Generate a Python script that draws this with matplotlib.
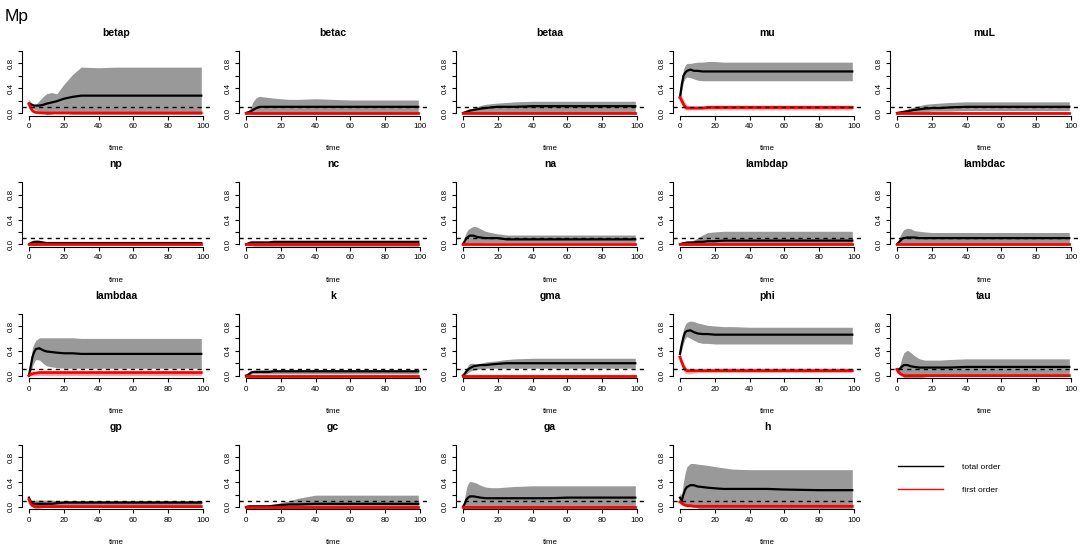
import matplotlib.pyplot as plt
from matplotlib.lines import Line2D

plt.rcParams['font.family'] = ['Liberation Sans', 'DejaVu Sans']

# shared time grid (values at these times)
time = [0, 1, 2, 3, 4, 6, 8, 10, 13, 16, 20, 25, 30, 40, 50, 60, 80, 99]

params = ['betap', 'betac', 'betaa', 'mu', 'muL',
          'np', 'nc', 'na', 'lambdap', 'lambdac',
          'lambdaa', 'k', 'gma', 'phi', 'tau',
          'gp', 'gc', 'ga', 'h']

total_mean = {
    'betap':   [0.15, 0.14, 0.13, 0.12, 0.12, 0.12, 0.13, 0.15, 0.17, 0.19, 0.23, 0.26, 0.28, 0.28, 0.28, 0.28, 0.28, 0.28],
    'betac':   [0.00, 0.01, 0.02, 0.03, 0.05, 0.08, 0.10, 0.10, 0.10, 0.10, 0.10, 0.10, 0.10, 0.10, 0.10, 0.10, 0.10, 0.10],
    'betaa':   [0.00, 0.01, 0.02, 0.03, 0.04, 0.05, 0.06, 0.07, 0.08, 0.09, 0.10, 0.10, 0.10, 0.11, 0.11, 0.11, 0.11, 0.11],
    'mu':      [0.25, 0.45, 0.60, 0.65, 0.68, 0.70, 0.68, 0.68, 0.67, 0.67, 0.67, 0.67, 0.67, 0.67, 0.67, 0.67, 0.67, 0.67],
    'muL':     [0.00, 0.005, 0.01, 0.015, 0.02, 0.03, 0.04, 0.05, 0.06, 0.07, 0.08, 0.08, 0.09, 0.10, 0.10, 0.10, 0.10, 0.10],
    'np':      [0.00, 0.02, 0.03, 0.04, 0.04, 0.04, 0.03, 0.02, 0.02, 0.02, 0.02, 0.02, 0.02, 0.02, 0.02, 0.02, 0.02, 0.02],
    'nc':      [0.00, 0.01, 0.02, 0.03, 0.03, 0.03, 0.03, 0.03, 0.03, 0.04, 0.04, 0.04, 0.04, 0.04, 0.04, 0.04, 0.04, 0.04],
    'na':      [0.00, 0.05, 0.10, 0.12, 0.14, 0.14, 0.12, 0.11, 0.10, 0.10, 0.10, 0.08, 0.08, 0.08, 0.08, 0.08, 0.08, 0.08],
    'lambdap': [0.00, 0.01, 0.02, 0.02, 0.03, 0.03, 0.03, 0.04, 0.04, 0.05, 0.05, 0.06, 0.06, 0.06, 0.06, 0.06, 0.06, 0.06],
    'lambdac': [0.00, 0.03, 0.06, 0.09, 0.10, 0.11, 0.11, 0.11, 0.10, 0.10, 0.10, 0.10, 0.10, 0.10, 0.10, 0.10, 0.10, 0.10],
    'lambdaa': [0.00, 0.15, 0.30, 0.38, 0.43, 0.44, 0.41, 0.39, 0.38, 0.37, 0.36, 0.36, 0.35, 0.35, 0.35, 0.35, 0.35, 0.35],
    'k':       [0.00, 0.01, 0.03, 0.05, 0.06, 0.06, 0.06, 0.06, 0.06, 0.07, 0.07, 0.07, 0.07, 0.07, 0.07, 0.07, 0.07, 0.07],
    'gma':     [0.00, 0.03, 0.07, 0.10, 0.12, 0.15, 0.16, 0.17, 0.17, 0.18, 0.19, 0.20, 0.20, 0.20, 0.20, 0.20, 0.20, 0.20],
    'phi':     [0.35, 0.50, 0.62, 0.70, 0.72, 0.73, 0.70, 0.68, 0.67, 0.67, 0.66, 0.66, 0.66, 0.66, 0.66, 0.66, 0.66, 0.66],
    'tau':     [0.10, 0.10, 0.12, 0.15, 0.17, 0.17, 0.15, 0.14, 0.13, 0.13, 0.13, 0.13, 0.13, 0.14, 0.14, 0.14, 0.14, 0.14],
    'gp':      [0.15, 0.08, 0.06, 0.05, 0.05, 0.05, 0.05, 0.05, 0.05, 0.06, 0.07, 0.07, 0.07, 0.07, 0.07, 0.07, 0.07, 0.07],
    'gc':      [0.00, 0.005, 0.01, 0.01, 0.01, 0.01, 0.01, 0.01, 0.01, 0.02, 0.03, 0.04, 0.04, 0.05, 0.05, 0.05, 0.05, 0.05],
    'ga':      [0.00, 0.05, 0.12, 0.15, 0.17, 0.17, 0.16, 0.15, 0.14, 0.14, 0.14, 0.14, 0.14, 0.14, 0.14, 0.15, 0.15, 0.15],
    'h':       [0.15, 0.10, 0.20, 0.28, 0.32, 0.35, 0.35, 0.33, 0.32, 0.31, 0.30, 0.29, 0.29, 0.29, 0.29, 0.28, 0.27, 0.27],
}

total_hi = {
    'betap':   [0.22, 0.18, 0.14, 0.13, 0.14, 0.20, 0.26, 0.31, 0.33, 0.31, 0.46, 0.62, 0.74, 0.73, 0.74, 0.74, 0.74, 0.74],
    'betac':   [0.00, 0.03, 0.06, 0.10, 0.18, 0.25, 0.27, 0.26, 0.25, 0.24, 0.23, 0.22, 0.22, 0.23, 0.22, 0.21, 0.21, 0.21],
    'betaa':   [0.00, 0.01, 0.03, 0.04, 0.06, 0.08, 0.10, 0.12, 0.14, 0.15, 0.16, 0.17, 0.18, 0.19, 0.19, 0.19, 0.19, 0.19],
    'mu':      [0.30, 0.55, 0.70, 0.77, 0.80, 0.80, 0.81, 0.82, 0.82, 0.83, 0.83, 0.82, 0.82, 0.82, 0.82, 0.82, 0.82, 0.82],
    'muL':     [0.00, 0.01, 0.02, 0.03, 0.04, 0.06, 0.08, 0.10, 0.12, 0.14, 0.15, 0.16, 0.17, 0.18, 0.18, 0.18, 0.18, 0.18],
    'np':      [0.00, 0.03, 0.05, 0.06, 0.07, 0.06, 0.04, 0.03, 0.03, 0.03, 0.03, 0.03, 0.03, 0.03, 0.03, 0.03, 0.03, 0.03],
    'nc':      [0.00, 0.02, 0.03, 0.04, 0.05, 0.05, 0.05, 0.05, 0.05, 0.06, 0.06, 0.06, 0.06, 0.06, 0.06, 0.06, 0.06, 0.06],
    'na':      [0.00, 0.12, 0.20, 0.24, 0.26, 0.29, 0.28, 0.25, 0.21, 0.19, 0.17, 0.15, 0.15, 0.15, 0.15, 0.15, 0.15, 0.15],
    'lambdap': [0.00, 0.02, 0.03, 0.03, 0.04, 0.05, 0.07, 0.10, 0.15, 0.19, 0.20, 0.21, 0.21, 0.21, 0.21, 0.21, 0.21, 0.21],
    'lambdac': [0.00, 0.08, 0.15, 0.20, 0.24, 0.26, 0.25, 0.22, 0.21, 0.20, 0.19, 0.19, 0.19, 0.19, 0.19, 0.19, 0.19, 0.19],
    'lambdaa': [0.00, 0.25, 0.45, 0.52, 0.57, 0.61, 0.61, 0.61, 0.61, 0.61, 0.61, 0.61, 0.60, 0.60, 0.60, 0.60, 0.60, 0.60],
    'k':       [0.00, 0.02, 0.05, 0.07, 0.08, 0.09, 0.09, 0.09, 0.09, 0.09, 0.09, 0.09, 0.09, 0.09, 0.09, 0.09, 0.09, 0.09],
    'gma':     [0.00, 0.06, 0.12, 0.17, 0.20, 0.20, 0.19, 0.20, 0.22, 0.23, 0.24, 0.26, 0.27, 0.28, 0.28, 0.28, 0.28, 0.28],
    'phi':     [0.38, 0.60, 0.75, 0.82, 0.86, 0.88, 0.87, 0.85, 0.83, 0.81, 0.80, 0.79, 0.79, 0.78, 0.78, 0.78, 0.78, 0.78],
    'tau':     [0.10, 0.12, 0.20, 0.30, 0.37, 0.41, 0.37, 0.32, 0.27, 0.25, 0.25, 0.25, 0.26, 0.27, 0.27, 0.27, 0.27, 0.27],
    'gp':      [0.16, 0.12, 0.10, 0.10, 0.11, 0.11, 0.11, 0.11, 0.11, 0.10, 0.10, 0.10, 0.10, 0.10, 0.10, 0.10, 0.10, 0.10],
    'gc':      [0.00, 0.01, 0.02, 0.02, 0.02, 0.02, 0.02, 0.02, 0.03, 0.04, 0.07, 0.10, 0.14, 0.19, 0.19, 0.19, 0.19, 0.19],
    'ga':      [0.00, 0.15, 0.30, 0.38, 0.41, 0.40, 0.38, 0.35, 0.32, 0.31, 0.31, 0.32, 0.33, 0.34, 0.34, 0.34, 0.34, 0.34],
    'h':       [0.22, 0.20, 0.40, 0.55, 0.65, 0.70, 0.70, 0.69, 0.68, 0.67, 0.65, 0.63, 0.61, 0.60, 0.60, 0.60, 0.60, 0.60],
}

total_lo = {
    'betap':   [0.10, 0.09, 0.08, 0.06, 0.05, 0.03, 0.00, -0.03, -0.02, 0.03, 0.00, -0.02, -0.02, -0.02, -0.02, -0.02, -0.02, -0.02],
    'betac':   [0.00, 0.00, -0.01, -0.01, -0.02, -0.02, -0.02, -0.02, -0.02, -0.02, -0.02, -0.02, -0.02, -0.02, -0.02, -0.02, -0.02, -0.02],
    'betaa':   [0.00, 0.00, 0.00, 0.00, 0.01, 0.01, 0.01, 0.01, 0.01, 0.01, 0.01, 0.01, 0.01, 0.01, 0.01, 0.01, 0.01, 0.01],
    'mu':      [0.20, 0.35, 0.50, 0.56, 0.58, 0.57, 0.55, 0.53, 0.52, 0.52, 0.52, 0.52, 0.52, 0.52, 0.52, 0.52, 0.52, 0.52],
    'muL':     [0.00, 0.00, 0.00, 0.00, 0.00, 0.01, 0.01, 0.01, 0.02, 0.02, 0.03, 0.03, 0.03, 0.04, 0.04, 0.04, 0.04, 0.04],
    'np':      [0.00, -0.01, -0.02, -0.02, -0.02, -0.01, 0.00, 0.00, 0.00, 0.00, 0.00, 0.00, 0.00, 0.00, 0.00, 0.00, 0.00, 0.00],
    'nc':      [0.00, -0.01, -0.02, -0.02, -0.03, -0.03, -0.03, -0.03, -0.03, -0.03, -0.03, -0.03, -0.03, -0.03, -0.03, -0.03, -0.03, -0.03],
    'na':      [0.00, 0.00, 0.01, 0.02, 0.02, 0.02, 0.02, 0.02, 0.03, 0.03, 0.03, 0.03, 0.03, 0.03, 0.03, 0.03, 0.03, 0.03],
    'lambdap': [0.00, 0.00, -0.01, -0.02, -0.02, -0.01, 0.00, 0.00, 0.00, 0.00, 0.00, 0.00, 0.00, 0.00, 0.00, 0.00, 0.00, 0.00],
    'lambdac': [0.00, 0.00, 0.00, 0.01, 0.01, 0.01, 0.01, 0.01, 0.01, 0.01, 0.01, 0.01, 0.01, 0.01, 0.01, 0.01, 0.01, 0.01],
    'lambdaa': [0.00, 0.05, 0.15, 0.22, 0.26, 0.25, 0.20, 0.16, 0.14, 0.13, 0.12, 0.12, 0.12, 0.12, 0.12, 0.12, 0.12, 0.12],
    'k':       [0.00, 0.00, 0.01, 0.02, 0.03, 0.03, 0.03, 0.03, 0.03, 0.03, 0.03, 0.03, 0.03, 0.03, 0.03, 0.03, 0.03, 0.03],
    'gma':     [0.00, 0.00, 0.03, 0.05, 0.07, 0.09, 0.10, 0.11, 0.12, 0.12, 0.12, 0.12, 0.12, 0.12, 0.12, 0.12, 0.12, 0.12],
    'phi':     [0.32, 0.42, 0.52, 0.60, 0.63, 0.60, 0.57, 0.54, 0.52, 0.52, 0.51, 0.51, 0.51, 0.51, 0.51, 0.51, 0.51, 0.51],
    'tau':     [0.10, 0.06, 0.03, 0.00, -0.03, -0.04, -0.05, -0.05, -0.04, -0.02, 0.00, 0.00, 0.00, 0.00, 0.00, 0.00, 0.00, 0.00],
    'gp':      [0.14, 0.04, 0.00, -0.02, -0.02, -0.02, -0.01, 0.00, 0.00, 0.00, 0.00, 0.00, 0.00, 0.00, 0.00, 0.00, 0.00, 0.00],
    'gc':      [0.00, 0.00, 0.00, 0.00, -0.01, -0.01, -0.01, -0.01, -0.01, -0.02, -0.02, -0.02, -0.02, -0.02, -0.02, -0.02, -0.02, -0.02],
    'ga':      [0.00, 0.00, 0.00, 0.00, 0.00, 0.00, 0.00, 0.00, 0.00, 0.00, 0.00, 0.00, 0.00, 0.00, 0.00, 0.00, 0.00, 0.00],
    'h':       [0.10, 0.05, 0.05, 0.04, 0.03, 0.01, 0.00, -0.02, -0.03, -0.03, -0.03, -0.03, -0.03, -0.03, -0.03, -0.03, -0.03, -0.03],
}

first_mean = {
    'betap':   [0.15, 0.08, 0.04, 0.02, 0.01, 0.005, 0.00, 0.00, 0.00, 0.00, 0.00, 0.00, 0.00, 0.00, 0.00, 0.00, 0.00, 0.00],
    'betac':   [0.005] * 18,
    'betaa':   [0.005] * 18,
    'mu':      [0.25, 0.20, 0.14, 0.10, 0.08, 0.08, 0.08, 0.08, 0.08, 0.09, 0.09, 0.09, 0.09, 0.09, 0.09, 0.09, 0.09, 0.09],
    'muL':     [0.005] * 18,
    'np':      [0.005] * 18,
    'nc':      [0.00] * 18,
    'na':      [0.00] * 18,
    'lambdap': [0.00] * 18,
    'lambdac': [0.00] * 18,
    'lambdaa': [0.00, 0.02, 0.03, 0.04, 0.04, 0.05, 0.05, 0.05, 0.05, 0.05, 0.05, 0.05, 0.05, 0.05, 0.05, 0.05, 0.05, 0.05],
    'k':       [0.00] * 18,
    'gma':     [0.00] * 18,
    'phi':     [0.30, 0.22, 0.15, 0.10, 0.08, 0.08, 0.08, 0.08, 0.08, 0.08, 0.08, 0.08, 0.08, 0.08, 0.08, 0.08, 0.08, 0.08],
    'tau':     [0.10, 0.05, 0.03, 0.01, 0.00, 0.00, 0.00, 0.00, 0.00, 0.00, 0.00, 0.00, 0.00, 0.00, 0.00, 0.00, 0.00, 0.00],
    'gp':      [0.12, 0.05, 0.02, 0.01, 0.005, 0.005, 0.005, 0.005, 0.005, 0.005, 0.005, 0.005, 0.005, 0.005, 0.005, 0.005, 0.005, 0.005],
    'gc':      [0.00] * 18,
    'ga':      [0.00] * 18,
    'h':       [0.08, 0.06, 0.04, 0.03, 0.02, 0.02, 0.01, 0.01, 0.01, 0.01, 0.01, 0.01, 0.01, 0.01, 0.01, 0.01, 0.01, 0.01],
}

first_hi = {
    'betap':   [0.18, 0.12, 0.07, 0.04, 0.03, 0.02, 0.015, 0.015, 0.015, 0.015, 0.015, 0.015, 0.015, 0.015, 0.015, 0.015, 0.015, 0.015],
    'betac':   [0.015] * 18,
    'betaa':   [0.015] * 18,
    'mu':      [0.30, 0.27, 0.22, 0.17, 0.13, 0.11, 0.11, 0.11, 0.11, 0.13, 0.13, 0.13, 0.13, 0.13, 0.13, 0.13, 0.13, 0.13],
    'muL':     [0.015] * 18,
    'np':      [0.015] * 18,
    'nc':      [0.01] * 18,
    'na':      [0.01] * 18,
    'lambdap': [0.01] * 18,
    'lambdac': [0.01] * 18,
    'lambdaa': [0.00, 0.03, 0.05, 0.06, 0.06, 0.06, 0.06, 0.06, 0.06, 0.06, 0.06, 0.06, 0.06, 0.06, 0.06, 0.06, 0.06, 0.06],
    'k':       [0.01] * 18,
    'gma':     [0.01] * 18,
    'phi':     [0.33, 0.27, 0.20, 0.15, 0.11, 0.10, 0.10, 0.10, 0.11, 0.11, 0.12, 0.12, 0.12, 0.12, 0.12, 0.12, 0.12, 0.12],
    'tau':     [0.11, 0.07, 0.04, 0.02, 0.01, 0.01, 0.01, 0.01, 0.01, 0.01, 0.01, 0.01, 0.01, 0.01, 0.01, 0.01, 0.01, 0.01],
    'gp':      [0.13, 0.07, 0.03, 0.02, 0.015, 0.015, 0.015, 0.015, 0.015, 0.015, 0.015, 0.015, 0.015, 0.015, 0.015, 0.015, 0.015, 0.015],
    'gc':      [0.01] * 18,
    'ga':      [0.01] * 18,
    'h':       [0.09, 0.08, 0.06, 0.05, 0.04, 0.03, 0.02, 0.02, 0.02, 0.02, 0.02, 0.02, 0.02, 0.02, 0.02, 0.02, 0.02, 0.02],
}

first_lo = {
    'betap':   [0.12, 0.05, 0.01, 0.00, -0.01, -0.01, -0.01, -0.01, -0.01, -0.01, -0.01, -0.01, -0.01, -0.01, -0.01, -0.01, -0.01, -0.01],
    'betac':   [-0.005] * 18,
    'betaa':   [-0.005] * 18,
    'mu':      [0.20, 0.15, 0.08, 0.05, 0.05, 0.05, 0.05, 0.05, 0.05, 0.05, 0.05, 0.05, 0.05, 0.05, 0.05, 0.05, 0.05, 0.05],
    'muL':     [-0.005] * 18,
    'np':      [-0.005] * 18,
    'nc':      [-0.01] * 18,
    'na':      [-0.01] * 18,
    'lambdap': [-0.01] * 18,
    'lambdac': [-0.01] * 18,
    'lambdaa': [0.00, 0.00, 0.00, 0.00, 0.00, 0.00, 0.00, 0.00, 0.00, 0.00, 0.00, 0.00, 0.00, 0.00, 0.00, 0.00, 0.00, 0.00],
    'k':       [-0.01] * 18,
    'gma':     [-0.01] * 18,
    'phi':     [0.27, 0.15, 0.08, 0.04, 0.03, 0.03, 0.04, 0.05, 0.05, 0.05, 0.05, 0.05, 0.05, 0.05, 0.05, 0.05, 0.05, 0.05],
    'tau':     [0.09, 0.03, 0.01, 0.00, -0.01, -0.01, -0.01, -0.01, -0.01, -0.01, -0.01, -0.01, -0.01, -0.01, -0.01, -0.01, -0.01, -0.01],
    'gp':      [0.11, 0.03, 0.01, 0.00, -0.005, -0.005, -0.005, -0.005, -0.005, -0.005, -0.005, -0.005, -0.005, -0.005, -0.005, -0.005, -0.005, -0.005],
    'gc':      [-0.01] * 18,
    'ga':      [-0.01] * 18,
    'h':       [0.07, 0.04, 0.02, 0.01, 0.00, 0.00, 0.00, 0.00, 0.00, 0.00, 0.00, 0.00, 0.00, 0.00, 0.00, 0.00, 0.00, 0.00],
}

threshold = 0.1

W, H = 1084, 548
fig = plt.figure(figsize=(W / 100, H / 100), dpi=100)
fig.text(5 / W, 1 - 16 / H, 'Mp', fontsize=12.5, va='center', ha='left')


def panel_axes(row, col):
    left = 22 + 217 * col
    top = 48.5 + 131.3 * row
    return fig.add_axes([left / W, 1 - (top + 67) / H, 188 / W, 67 / H])


for i, name in enumerate(params):
    ax = panel_axes(i // 5, i % 5)
    ax.fill_between(time, total_lo[name], total_hi[name], color='#999999', lw=0)
    ax.fill_between(time, first_lo[name], first_hi[name], color='red', alpha=0.35, lw=0)
    ax.plot(time, total_mean[name], color='black', lw=1.6)
    ax.plot(time, first_mean[name], color='red', lw=2.0)
    ax.axhline(threshold, color='black', lw=1.0, ls=(0, (3, 3)))

    ax.set_xlim(-4, 104)
    ax.set_ylim(-0.04, 1.04)
    for side in ('top', 'right'):
        ax.spines[side].set_visible(False)
    ax.spines['left'].set_bounds(0, 1)
    ax.spines['bottom'].set_bounds(0, 100)
    ax.spines['left'].set_linewidth(0.8)
    ax.spines['bottom'].set_linewidth(0.8)
    ax.set_xticks([0, 20, 40, 60, 80, 100])
    ax.set_yticks([0, 0.2, 0.4, 0.6, 0.8, 1.0])
    ax.set_yticklabels(['0.0', '', '0.4', '', '0.8', ''], rotation=90, va='center')
    ax.tick_params(length=3, width=0.8, labelsize=5.8, pad=2.5)
    ax.set_title(name, fontsize=7.5, fontweight='bold', pad=9)
    ax.set_xlabel('time', fontsize=5.8, labelpad=11)

# legend in the empty last slot
lax = panel_axes(3, 4)
lax.axis('off')
handles = [Line2D([], [], color='black', lw=1.0),
           Line2D([], [], color='red', lw=1.0)]
lax.legend(handles, ['total order', 'first order'], loc='center left',
           bbox_to_anchor=(0.0, 0.46), frameon=False, fontsize=6,
           handlelength=5.5, handletextpad=2.2, labelspacing=1.8)

fig.savefig('out.png', dpi=100)
